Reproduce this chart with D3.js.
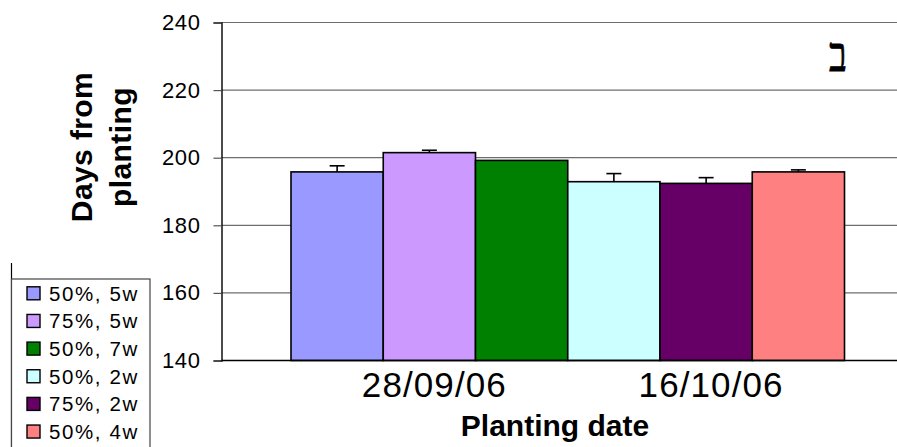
<!DOCTYPE html>
<html>
<head>
<meta charset="utf-8">
<script src="https://cdn.jsdelivr.net/npm/d3@7"></script>
<style>
  html, body { margin: 0; padding: 0; background: #fff; }
  svg { display: block; font-family: "Liberation Sans", Arial, sans-serif; }
</style>
</head>
<body>
<svg id="chart" width="897" height="447"></svg>
<script>
// Treatments (legend labels), their mean days from planting and error (+)
const seriesNames = ["50%, 5w", "75%, 5w", "50%, 7w", "50%, 2w", "75%, 2w", "50%, 4w"];
const seriesValues = [195.8, 201.5, 199.2, 192.9, 192.4, 195.8];
const seriesErrors = [1.8, 0.7, 0.0, 2.4, 1.7, 0.6];
const seriesColors = ["#9999FF", "#CC99FF", "#008000", "#CCFFFF", "#660066", "#FF8080"];

// Planting dates, each labelling a group of three bars
const dateLabels = ["28/09/06", "16/10/06"];
const dateGroups = [[0, 1, 2], [3, 4, 5]];

const yTicks = [140, 160, 180, 200, 220, 240];
const yTitleLines = ["Days from", "planting"];
const xTitle = "Planting date";
const panelMark = "ב";

const svg = d3.select("#chart");

// plot area (extends past the right edge of the canvas)
const plot = { left: 221.5, right: 914, top: 22.5, bottom: 360.5 };

const y = d3.scaleLinear().domain([140, 240]).range([plot.bottom, plot.top]);

// one cluster centred in the plot with gaps on both sides
const gap = 69.5;
const x = d3.scaleBand()
  .domain(seriesNames)
  .range([plot.left + gap, plot.right - gap])
  .padding(0);

// gridlines
svg.append("g")
  .selectAll("line")
  .data(yTicks.filter(t => t > 140))
  .join("line")
  .attr("x1", plot.left).attr("x2", plot.right)
  .attr("y1", d => y(d)).attr("y2", d => y(d))
  .attr("stroke", "#6e6e6e").attr("stroke-width", 1.2);

// y axis
const yAxis = d3.axisLeft(y).tickValues(yTicks).tickSize(8).tickPadding(13).tickFormat(d3.format("d"));
const gy = svg.append("g").attr("transform", `translate(${plot.left},0)`).call(yAxis);
gy.select(".domain").attr("stroke", "#000").attr("stroke-width", 1.4);
gy.selectAll(".tick line").attr("stroke", "#555").attr("stroke-width", 1.2);
gy.selectAll(".tick text")
  .attr("fill", "#000")
  .style("font-size", "22px")
  .style("letter-spacing", "0.6px")
  .style("font-family", "'Liberation Sans', Arial, sans-serif");

// bars
const bars = seriesNames.map((name, i) => ({ name, value: seriesValues[i], err: seriesErrors[i], color: seriesColors[i] }));

svg.append("g")
  .selectAll("rect")
  .data(bars)
  .join("rect")
  .attr("x", d => x(d.name))
  .attr("width", x.bandwidth())
  .attr("y", d => y(d.value))
  .attr("height", d => y(140) - y(d.value))
  .attr("fill", d => d.color)
  .attr("stroke", "#000")
  .attr("stroke-width", 1.6);

// error bars (plus direction)
const eb = svg.append("g").attr("stroke", "#000").attr("stroke-width", 1.6);
bars.filter(d => d.err > 0).forEach(d => {
  const cx = x(d.name) + x.bandwidth() / 2;
  eb.append("line").attr("x1", cx).attr("x2", cx).attr("y1", y(d.value)).attr("y2", y(d.value + d.err));
  eb.append("line").attr("x1", cx - 7.5).attr("x2", cx + 7.5).attr("y1", y(d.value + d.err)).attr("y2", y(d.value + d.err));
});

// x axis baseline
svg.append("line")
  .attr("x1", plot.left).attr("x2", plot.right)
  .attr("y1", y(140)).attr("y2", y(140))
  .attr("stroke", "#000").attr("stroke-width", 1.4);

// planting date labels under each group
svg.append("g")
  .selectAll("text")
  .data(dateLabels)
  .join("text")
  .attr("x", (d, i) => {
    const g = dateGroups[i];
    const a = x(seriesNames[g[0]]);
    const b = x(seriesNames[g[g.length - 1]]) + x.bandwidth();
    return (a + b) / 2 + 5;
  })
  .attr("y", 397)
  .attr("text-anchor", "middle")
  .style("font-size", "35px")
  .style("letter-spacing", "1.1px")
  .text(d => d);

// x axis title
svg.append("text")
  .attr("x", 555).attr("y", 436)
  .attr("text-anchor", "middle")
  .style("font-size", "30px").style("font-weight", "bold")
  .text(xTitle);

// y axis title (two lines, rotated)
const yt = svg.append("text")
  .attr("transform", "translate(92,147) rotate(-90)")
  .attr("text-anchor", "middle")
  .style("font-size", "30px").style("font-weight", "bold")
  .style("letter-spacing", "0.4px");
yTitleLines.forEach((line, i) => {
  yt.append("tspan").attr("x", 0).attr("dy", i === 0 ? 0 : 39).text(line);
});

// panel letter
svg.append("text")
  .attr("transform", "translate(838,71) scale(1,1.3)")
  .attr("text-anchor", "middle")
  .style("font-family", "'Liberation Serif', 'DejaVu Serif', serif")
  .style("font-size", "37px")
  .style("font-weight", "normal")
  .style("stroke", "#000").style("stroke-width", 0.6)
  .text(panelMark);

// legend
const legend = svg.append("g");
legend.append("line")
  .attr("x1", 11.5).attr("x2", 11.5).attr("y1", 263).attr("y2", 447)
  .attr("stroke", "#000").attr("stroke-width", 1.2);
legend.append("rect")
  .attr("x", 11.5).attr("y", 279).attr("width", 138.5).attr("height", 190)
  .attr("fill", "#fff").attr("stroke", "#444").attr("stroke-width", 1.2);
const rows = legend.selectAll("g.row")
  .data(bars)
  .join("g")
  .attr("class", "row")
  .attr("transform", (d, i) => `translate(0,${293.3 + i * 27.65})`);
rows.append("rect")
  .attr("x", 27).attr("y", -6.5).attr("width", 13).attr("height", 13)
  .attr("fill", d => d.color).attr("stroke", "#000").attr("stroke-width", 1.4);
rows.append("text")
  .attr("x", 49).attr("y", 7.3)
  .style("font-size", "20.5px")
  .style("letter-spacing", "1.6px")
  .text(d => d.name);
</script>
</body>
</html>
